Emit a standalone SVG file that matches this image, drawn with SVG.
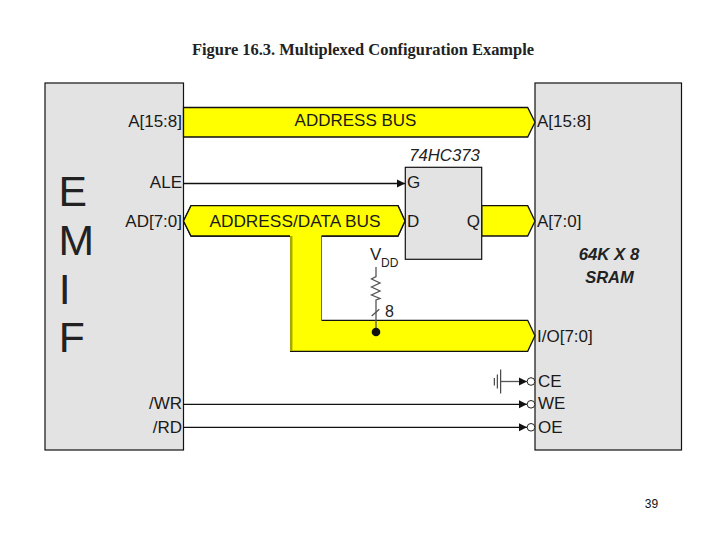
<svg xmlns="http://www.w3.org/2000/svg" width="720" height="540" viewBox="0 0 720 540">
<style>
.t{font-family:"Liberation Sans",Arial,sans-serif;font-size:17px;fill:#1a1a1a}
.box{fill:#e3e3e3;stroke:#111;stroke-width:1.2}
.bus{fill:#ffff00;stroke:#111;stroke-width:1.3}
.wire{fill:none;stroke:#111;stroke-width:1.3}
.g{fill:none;stroke:#555;stroke-width:1.3}
.gnd{fill:none;stroke:#222;stroke-width:1}
.bub{fill:#fff;stroke:#222;stroke-width:1}
.e{font-family:"Liberation Sans",Arial,sans-serif;font-size:42.7px;fill:#222}
</style>
<defs>
<marker id="a" markerWidth="9" markerHeight="9" refX="8" refY="4.500" orient="auto" markerUnits="userSpaceOnUse"><path d="M0 0.500L8 4.500L0 8.500z" fill="#111"/></marker>
</defs>
<rect width="720" height="540" fill="#fff"/>
<text x="363" y="55" text-anchor="middle" font-family="Liberation Serif,serif" font-weight="bold" font-size="16.450" fill="#222">Figure 16.3. Multiplexed Configuration Example</text>
<g id="emif">
<rect class="box" x="45" y="83" width="138.500" height="367"/>
<text class="e" x="58.600" y="206">E</text>
<text class="e" x="58.600" y="255">M</text>
<text class="e" x="58.800" y="304">I</text>
<text class="e" x="58.800" y="352">F</text>
<text class="t" x="182" y="127" text-anchor="end">A[15:8]</text>
<text class="t" x="182" y="188" text-anchor="end">ALE</text>
<text class="t" x="182" y="227" text-anchor="end">AD[7:0]</text>
<text class="t" x="182" y="409" text-anchor="end">/WR</text>
<text class="t" x="182" y="433" text-anchor="end">/RD</text>
</g>
<g id="sram">
<rect class="box" x="535" y="83" width="146.500" height="367"/>
<text class="t" x="537" y="127">A[15:8]</text>
<text class="t" x="537" y="227">A[7:0]</text>
<text class="t" x="537" y="342">I/O[7:0]</text>
<text class="t" x="538" y="387">CE</text>
<text class="t" x="538" y="409">WE</text>
<text class="t" x="538" y="433">OE</text>
<text x="609" y="260" text-anchor="middle" font-family="Liberation Sans,sans-serif" font-weight="bold" font-style="italic" font-size="16.800" fill="#222">64K X 8</text>
<text x="609.500" y="282.500" text-anchor="middle" font-family="Liberation Sans,sans-serif" font-weight="bold" font-style="italic" font-size="16.500" fill="#222">SRAM</text>
</g>
<g id="address-bus">
<path class="bus" d="M183.500 107.500H527.700L535 122.300L527.700 137H183.500z"/>
<text class="t" x="355.500" y="126" text-anchor="middle">ADDRESS BUS</text>
</g>
<g id="address-data-bus">
<path d="M290 236H321.500V320.300H527.700L535 335.800L527.700 351.300H290z" fill="#ffff00"/>
<path class="wire" d="M321.500 320.300H527.700L535 335.800L527.700 351.300H290"/>
<path d="M321.500 236.500V320.300" fill="none" stroke="#77770a" stroke-width="1"/>
<path d="M291.200 236V351" fill="none" stroke="#a8a800" stroke-width="2.500"/>
<path class="wire" d="M290 236H191L183.500 221L191 205.700H398L405 221L398 236H321.500"/>
<path d="M183.500 221L191 205.700H398L405 221L398 236H191z" fill="#ffff00"/>
<path class="wire" d="M290 236H191L183.500 221L191 205.700H398L405 221L398 236H321.500"/>
<text class="t" x="295" y="227" text-anchor="middle" style="font-size:17.300px">ADDRESS/DATA BUS</text>
</g>
<g id="latch">
<path class="bus" d="M481.700 205.700H527.700L535 221L527.700 236H481.700z"/>
<rect class="box" x="405.300" y="167.300" width="76.400" height="92"/>
<text x="444.500" y="161" text-anchor="middle" font-family="Liberation Sans,sans-serif" font-style="italic" font-size="16.700" fill="#222">74HC373</text>
<text class="t" x="407" y="188">G</text>
<text class="t" x="407" y="227">D</text>
<text class="t" x="480" y="227" text-anchor="end">Q</text>
</g>
<g id="pullup">
<text x="370" y="260" font-family="Liberation Sans,sans-serif" font-size="17" fill="#222">V</text>
<text x="381" y="267" font-family="Liberation Sans,sans-serif" font-size="12" fill="#222">DD</text>
<path class="g" d="M376 267V276.500L371.500 279L380 283L371.500 287L380 291L371.500 295L380 298.500L376 300V332"/>
<path class="g" d="M371.700 316L379.300 309.300"/>
<text x="385" y="317" font-family="Liberation Sans,sans-serif" font-size="16" fill="#222">8</text>
<circle cx="376" cy="332" r="4.300" fill="#111"/>
</g>
<g id="ground">
<path class="gnd" d="M500.700 369.500V393.500M497.300 374.500V388.500M494.300 378V385.500"/>
</g>
<g id="connectors">
<path class="wire" marker-end="url(#a)" d="M183.500 183.500H405"/>
<path class="wire" marker-end="url(#a)" style="stroke:#555" d="M501 381.500H527"/>
<path class="wire" marker-end="url(#a)" d="M183.500 404.300H527"/>
<path class="wire" marker-end="url(#a)" d="M183.500 427.300H527"/>
<circle class="bub" cx="531" cy="381.500" r="3.800"/>
<circle class="bub" cx="531" cy="404.300" r="3.800"/>
<circle class="bub" cx="531" cy="427.300" r="3.800"/>
</g>
<text x="651.500" y="508" text-anchor="middle" font-family="Liberation Sans,sans-serif" font-size="12" fill="#111">39</text>
</svg>
